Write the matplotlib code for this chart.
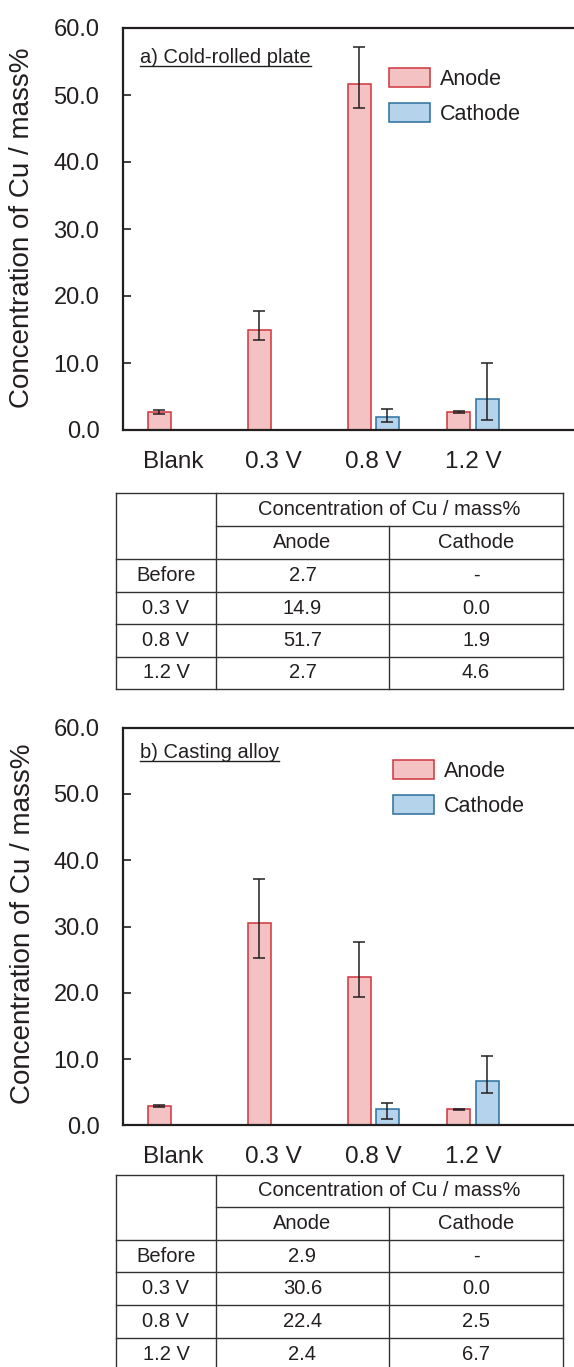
import numpy as np
import matplotlib
matplotlib.use("Agg")
import matplotlib.pyplot as plt
from matplotlib.lines import Line2D

plt.rcParams['font.family'] = ['Liberation Sans', 'DejaVu Sans']
plt.rcParams['text.color'] = '#231f20'

# ---- data ----
categories = ["Blank", "0.3 V", "0.8 V", "1.2 V"]
row_labels = ["Before", "0.3 V", "0.8 V", "1.2 V"]

anode_a = [2.7, 14.9, 51.7, 2.7]
cathode_a = [np.nan, 0.0, 1.9, 4.6]
anode_a_lo = [0.25, 1.4, 3.6, 0.1]
anode_a_hi = [0.25, 2.9, 5.4, 0.1]
cathode_a_lo = [0.0, 0.0, 0.7, 3.1]
cathode_a_hi = [0.0, 0.0, 1.3, 5.4]

anode_b = [2.9, 30.6, 22.4, 2.4]
cathode_b = [np.nan, 0.0, 2.5, 6.7]
anode_b_lo = [0.15, 5.3, 3.1, 0.1]
anode_b_hi = [0.15, 6.6, 5.2, 0.1]
cathode_b_lo = [0.0, 0.0, 1.6, 1.8]
cathode_b_hi = [0.0, 0.0, 0.9, 3.7]

anode_fill, anode_edge = "#f4c2c2", "#d0343c"
cath_fill, cath_edge = "#b5d3ea", "#2b6f9e"

W, H = 574, 1367
fig = plt.figure(figsize=(W / 100, H / 100), dpi=100)


def px_axes(left, top, right, bottom):
    return fig.add_axes([left / W, 1 - bottom / H, (right - left) / W, (bottom - top) / H])


def draw_chart(ax, anode, cathode, a_lo, a_hi, c_lo, c_hi, title, leg_xy):
    x = np.arange(len(categories))
    ax.bar(x - 0.14, anode, width=0.23, color=anode_fill, edgecolor=anode_edge,
           linewidth=1.1, label="Anode", zorder=2)
    ax.bar(x + 0.14, cathode, width=0.23, color=cath_fill, edgecolor=cath_edge,
           linewidth=1.1, label="Cathode", zorder=2)
    ax.errorbar(x - 0.14, anode, yerr=[a_lo, a_hi], fmt='none', ecolor='#231f20',
                elinewidth=1.1, capsize=4, capthick=1.1, zorder=3)
    m = np.array(c_hi) > 0
    ax.errorbar((x + 0.14)[m], np.array(cathode)[m],
                yerr=[np.array(c_lo)[m], np.array(c_hi)[m]], fmt='none',
                ecolor='#231f20', elinewidth=1.1, capsize=4, capthick=1.1, zorder=3)
    ax.set_xlim(-0.5, 4.01)
    ax.set_ylim(0, 60)
    ax.set_yticks(np.arange(0, 61, 10))
    ax.set_yticklabels([f"{v:.1f}" for v in np.arange(0, 61, 10)])
    ax.set_xticks(x)
    ax.set_xticklabels(categories)
    ax.tick_params(axis='y', direction='in', length=6, width=1.2, labelsize=17,
                   pad=17, colors='#231f20')
    ax.tick_params(axis='x', length=0, labelsize=17.5, pad=15, colors='#231f20')
    for s in ['left', 'bottom', 'top']:
        ax.spines[s].set_linewidth(1.6)
        ax.spines[s].set_color('#231f20')
    ax.spines['right'].set_visible(False)
    ax.legend(loc='upper left', bbox_to_anchor=leg_xy, frameon=False, fontsize=15.5,
              handlelength=1.9, handleheight=1.0, handletextpad=0.45,
              labelspacing=0.6, borderpad=0, borderaxespad=0)
    t = ax.text(17 / 451, 0.0, title, transform=ax.transAxes, fontsize=14.5,
                ha='left', va='baseline')
    return t


ax1 = px_axes(123, 28, 574, 430)
t1 = draw_chart(ax1, anode_a, cathode_a, anode_a_lo, anode_a_hi, cathode_a_lo,
                cathode_a_hi, "a) Cold-rolled plate", ((389 - 123) / 451, (430 - 68) / 402))
t1.set_y((430 - 63) / 402)

ax2 = px_axes(123, 727.7, 574, 1125.3)
t2 = draw_chart(ax2, anode_b, cathode_b, anode_b_lo, anode_b_hi, cathode_b_lo,
                cathode_b_hi, "b) Casting alloy", ((393 - 123) / 451, (1125.3 - 760) / 397.6))
t2.set_y((1125.3 - 758) / 397.6)

fig.text(22 / W, 1 - 227.5 / H, "Concentration of Cu / mass%", rotation=90,
         ha='center', va='center', fontsize=20)
fig.text(23 / W, 1 - 924 / H, "Concentration of Cu / mass%", rotation=90,
         ha='center', va='center', fontsize=20)


def line_px(x0, y0, x1, y1, lw=1.0):
    fig.add_artist(Line2D([x0 / W, x1 / W], [1 - y0 / H, 1 - y1 / H],
                          transform=fig.transFigure, color='#333333', linewidth=lw))


def text_px(x, y, s):
    fig.text(x / W, 1 - y / H, s, ha='center', va='center', fontsize=14.5)


def draw_table(rows_y, anode, cathode):
    cols = [116, 216, 389, 563]
    # outer and inner lines
    line_px(cols[0], rows_y[0], cols[3], rows_y[0])
    line_px(cols[1], rows_y[1], cols[3], rows_y[1])
    for y in rows_y[2:]:
        line_px(cols[0], y, cols[3], y)
    line_px(cols[0], rows_y[0], cols[0], rows_y[-1])
    line_px(cols[1], rows_y[0], cols[1], rows_y[-1])
    line_px(cols[2], rows_y[1], cols[2], rows_y[-1])
    line_px(cols[3], rows_y[0], cols[3], rows_y[-1])
    text_px((cols[1] + cols[3]) / 2, (rows_y[0] + rows_y[1]) / 2,
            "Concentration of Cu / mass%")
    text_px((cols[1] + cols[2]) / 2, (rows_y[1] + rows_y[2]) / 2, "Anode")
    text_px((cols[2] + cols[3]) / 2, (rows_y[1] + rows_y[2]) / 2, "Cathode")
    for i, lab in enumerate(row_labels):
        yc = (rows_y[i + 2] + rows_y[i + 3]) / 2
        text_px((cols[0] + cols[1]) / 2, yc, lab)
        text_px((cols[1] + cols[2]) / 2, yc, f"{anode[i]:.1f}")
        c = cathode[i]
        text_px((cols[2] + cols[3]) / 2, yc, "-" if np.isnan(c) else f"{c:.1f}")


draw_table([493, 526, 559, 592, 624, 657, 689], anode_a, cathode_a)
draw_table([1175, 1207, 1240, 1272, 1305, 1338, 1370], anode_b, cathode_b)

# underline panel titles
fig.canvas.draw()
r = fig.canvas.get_renderer()
for t in (t1, t2):
    bb = t.get_window_extent(r)
    y = bb.y0 + 1.5
    fig.add_artist(Line2D([bb.x0, bb.x1], [y, y], transform=None,
                          color='#231f20', linewidth=1.0))

fig.savefig("out.png", dpi=100)
